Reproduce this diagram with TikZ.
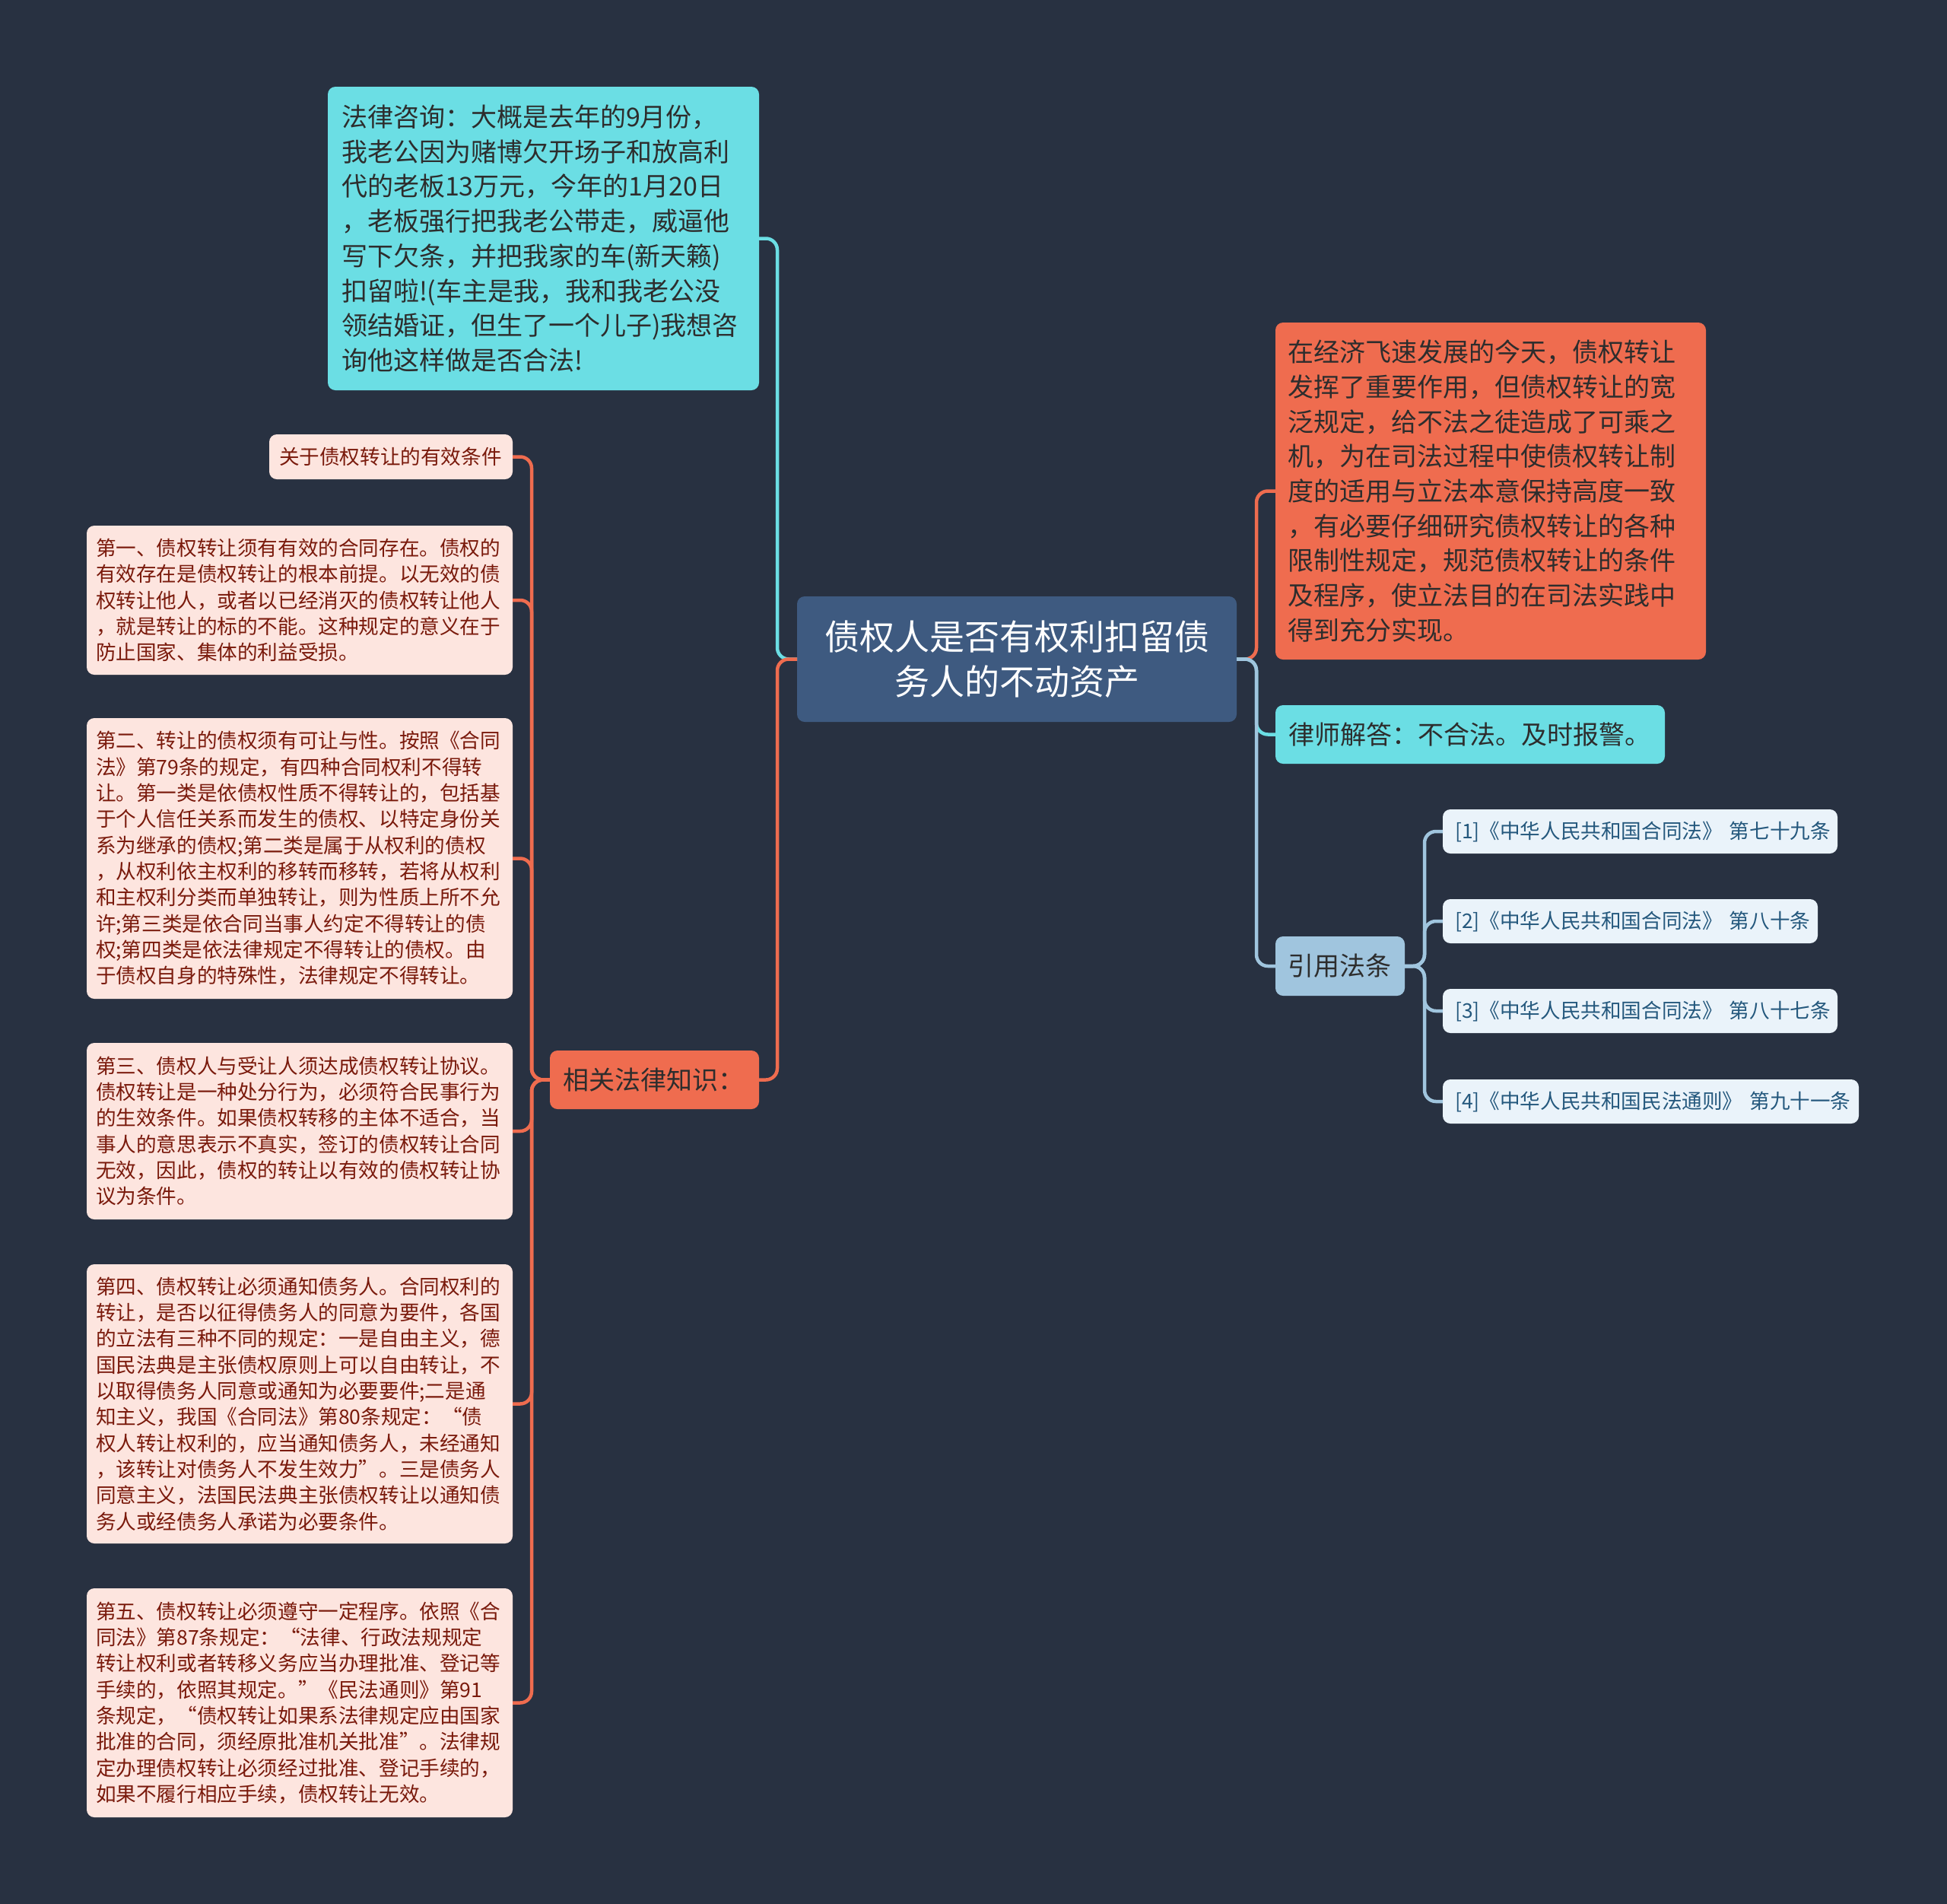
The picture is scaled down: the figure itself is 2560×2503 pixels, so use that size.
\documentclass[tikz,border=0pt]{standalone}
\usepackage{fontspec}
\setmainfont{Noto Sans CJK SC}
\definecolor{bg}{HTML}{283141}
\definecolor{rootc}{HTML}{3E5A80}
\definecolor{cyanc}{HTML}{6BDEE4}
\definecolor{orangec}{HTML}{EF6C4F}
\definecolor{pinkc}{HTML}{FDE5DF}
\definecolor{maroon}{HTML}{7A1A0C}
\definecolor{lblue}{HTML}{A0C5DE}
\definecolor{refc}{HTML}{EAF3FA}
\definecolor{reftxt}{HTML}{24587D}
\definecolor{darktxt}{HTML}{2D2D2D}
\begin{document}
\begin{tikzpicture}[x=1pt,y=-1pt,
  box/.style={rounded corners=10pt, anchor=north west, align=left, inner ysep=0pt, outer sep=0pt},
  big/.style={font=\fontsize{34}{45.7}\selectfont},
  small/.style={font=\fontsize{26.6}{34.3}\selectfont},
  reff/.style={font=\fontsize{26.6}{34}\selectfont},
  conn/.style={line width=4.5pt, rounded corners=15pt},
  pinkbox/.style={box, small, fill=pinkc, text=maroon, inner xsep=12pt, text width=536pt},
  refbox/.style={box, reff, fill=refc, text=reftxt, inner xsep=16pt, minimum height=58pt}
]
\fill[bg] (0,0) rectangle (2560,2503);
\useasboundingbox (0,0) rectangle (2560,2503);

% root
\node[box, align=center, fill=rootc, text=white, font=\fontsize{46}{59}\selectfont,
  inner xsep=20pt, text width=538pt, minimum height=165pt] (root) at (1048,784)
  {债权人是否有权利扣留债\\务人的不动资产};

% left top question
\node[box, big, fill=cyanc, text=darktxt, inner xsep=18pt, text width=531pt, minimum height=399pt] (q) at (431,114)
{法律咨询：大概是去年的9月份，\\
我老公因为赌博欠开场子和放高利\\
代的老板13万元，今年的1月20日\\
，老板强行把我老公带走，威逼他\\
写下欠条，并把我家的车(新天籁)\\
扣留啦!(车主是我，我和我老公没\\
领结婚证，但生了一个儿子)我想咨\\
询他这样做是否合法!};

% related knowledge
\node[box, big, fill=orangec, text=darktxt, inner xsep=17pt, text width=241pt, minimum height=77pt] (law) at (723,1381)
{相关法律知识：};

\node[box, small, fill=pinkc, text=maroon, inner xsep=13pt, text width=294pt, minimum height=59pt] (cond) at (354,571)
{关于债权转让的有效条件};

\node[pinkbox, minimum height=196pt] (p1) at (114,691)
{第一、债权转让须有有效的合同存在。债权的\\
有效存在是债权转让的根本前提。以无效的债\\
权转让他人，或者以已经消灭的债权转让他人\\
，就是转让的标的不能。这种规定的意义在于\\
防止国家、集体的利益受损。};

\node[pinkbox, minimum height=369pt] (p2) at (114,944)
{第二、转让的债权须有可让与性。按照《合同\\
法》第79条的规定，有四种合同权利不得转\\
让。第一类是依债权性质不得转让的，包括基\\
于个人信任关系而发生的债权、以特定身份关\\
系为继承的债权;第二类是属于从权利的债权\\
，从权利依主权利的移转而移转，若将从权利\\
和主权利分类而单独转让，则为性质上所不允\\
许;第三类是依合同当事人约定不得转让的债\\
权;第四类是依法律规定不得转让的债权。由\\
于债权自身的特殊性，法律规定不得转让。};

\node[pinkbox, minimum height=232pt] (p3) at (114,1371)
{第三、债权人与受让人须达成债权转让协议。\\
债权转让是一种处分行为，必须符合民事行为\\
的生效条件。如果债权转移的主体不适合，当\\
事人的意思表示不真实，签订的债权转让合同\\
无效，因此，债权的转让以有效的债权转让协\\
议为条件。};

\node[pinkbox, minimum height=367pt] (p4) at (114,1662)
{第四、债权转让必须通知债务人。合同权利的\\
转让，是否以征得债务人的同意为要件，各国\\
的立法有三种不同的规定：一是自由主义，德\\
国民法典是主张债权原则上可以自由转让，不\\
以取得债务人同意或通知为必要要件;二是通\\
知主义，我国《合同法》第80条规定：“债\\
权人转让权利的，应当通知债务人，未经通知\\
，该转让对债务人不发生效力”。三是债务人\\
同意主义，法国民法典主张债权转让以通知债\\
务人或经债务人承诺为必要条件。};

\node[pinkbox, minimum height=301pt] (p5) at (114,2088)
{第五、债权转让必须遵守一定程序。依照《合\\
同法》第87条规定：“法律、行政法规规定\\
转让权利或者转移义务应当办理批准、登记等\\
手续的，依照其规定。”《民法通则》第91\\
条规定，“债权转让如果系法律规定应由国家\\
批准的合同，须经原批准机关批准”。法律规\\
定办理债权转让必须经过批准、登记手续的，\\
如果不履行相应手续，债权转让无效。};

% right side
\node[box, big, fill=orangec, text=darktxt, inner xsep=16pt, text width=534pt, minimum height=443pt] (intro) at (1677,424)
{在经济飞速发展的今天，债权转让\\
发挥了重要作用，但债权转让的宽\\
泛规定，给不法之徒造成了可乘之\\
机，为在司法过程中使债权转让制\\
度的适用与立法本意保持高度一致\\
，有必要仔细研究债权转让的各种\\
限制性规定，规范债权转让的条件\\
及程序，使立法目的在司法实践中\\
得到充分实现。};

\node[box, big, fill=cyanc, text=darktxt, inner xsep=17pt, text width=478pt, minimum height=77pt] (lawyer) at (1677,927)
{律师解答：不合法。及时报警。};

\node[box, big, fill=lblue, text=darktxt, inner xsep=16pt, text width=138pt, minimum height=78pt] (cite) at (1677,1231)
{引用法条};

\node[refbox, text width=487pt] (r1) at (1897,1064) {[1]《中华人民共和国合同法》~第七十九条};
\node[refbox, text width=461pt] (r2) at (1897,1182) {[2]《中华人民共和国合同法》~第八十条};
\node[refbox, text width=487pt] (r3) at (1897,1300) {[3]《中华人民共和国合同法》~第八十七条};
\node[refbox, text width=515pt] (r4) at (1897,1419) {[4]《中华人民共和国民法通则》~第九十一条};

% connectors
\draw[conn, cyanc] (root.west) -- ++(-26,0) |- (q.east);
\draw[conn, orangec] (root.west) -- ++(-26,0) |- (law.east);
\foreach \n in {cond,p1,p2,p3,p4,p5}
  \draw[conn, orangec] (law.west) -- ++(-24,0) |- (\n.east);

\draw[conn, orangec] (root.east) -- ++(26,0) |- (intro.west);
\draw[conn, cyanc] (root.east) -- ++(26,0) |- (lawyer.west);
\draw[conn, lblue] (root.east) -- ++(26,0) |- (cite.west);
\foreach \n in {r1,r2,r3,r4}
  \draw[conn, lblue] (cite.east) -- ++(26,0) |- (\n.west);
\end{tikzpicture}
\end{document}
